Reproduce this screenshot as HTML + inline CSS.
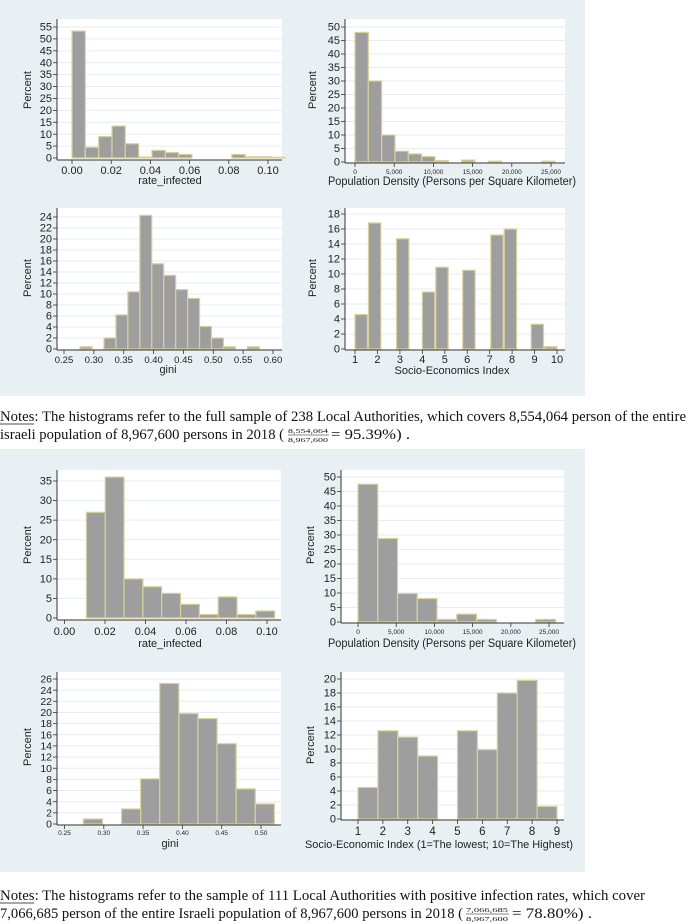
<!DOCTYPE html>
<html><head><meta charset="utf-8"><style>
html,body{margin:0;padding:0;background:#fff;}
svg{display:block;}
</style></head><body>
<svg id="fig" width="688" height="924" viewBox="0 0 688 924" xmlns="http://www.w3.org/2000/svg" font-family="Liberation Sans, sans-serif">
<rect x="0" y="0" width="585" height="396" fill="#e9f0f3"/>
<rect x="0" y="449" width="585" height="423" fill="#e9f0f3"/>
<g id="charts"></g>
<g font-family="Liberation Serif, serif" font-size="14.5" fill="#111">
  <text x="0" y="421" textLength="686" lengthAdjust="spacingAndGlyphs">Notes: The histograms refer to the full sample of 238 Local Authorities, which covers 8,554,064 person of the entire</text>
  <line x1="0" y1="424" x2="34" y2="424" stroke="#111" stroke-width="0.8"/>
  <text x="0" y="439" textLength="284" lengthAdjust="spacingAndGlyphs">israeli population of 8,967,600 persons in 2018 (</text>
  <text x="288" y="433" font-size="6.5" textLength="40" lengthAdjust="spacingAndGlyphs">8,554,064</text>
  <line x1="288" y1="435" x2="329" y2="435" stroke="#111" stroke-width="0.6"/>
  <text x="288" y="442" font-size="6.5" textLength="40" lengthAdjust="spacingAndGlyphs">8,967,600</text>
  <text x="331" y="439" textLength="79" lengthAdjust="spacingAndGlyphs">= 95.39%) .</text>
</g>
<g font-family="Liberation Serif, serif" font-size="14.5" fill="#111">
  <text x="0" y="900" textLength="645" lengthAdjust="spacingAndGlyphs">Notes: The histograms refer to the sample of 111 Local Authorities with positive infection rates, which cover</text>
  <line x1="0" y1="903" x2="34" y2="903" stroke="#111" stroke-width="0.8"/>
  <text x="0" y="918" textLength="463" lengthAdjust="spacingAndGlyphs">7,066,685 person of the entire Israeli population of 8,967,600 persons in 2018 (</text>
  <text x="466" y="912" font-size="6.5" textLength="42" lengthAdjust="spacingAndGlyphs">7,066,685</text>
  <line x1="466" y1="914" x2="509" y2="914" stroke="#111" stroke-width="0.6"/>
  <text x="466" y="921" font-size="6.5" textLength="42" lengthAdjust="spacingAndGlyphs">8,967,600</text>
  <text x="512" y="918" textLength="80" lengthAdjust="spacingAndGlyphs">= 78.80%) .</text>
</g>
</svg>
<script>
// ---- data ----
const rateAllValues = [53.3,4.5,9.0,13.4,6.0,0.4,3.2,2.3,1.5,0,0,0,1.5,0.5,0.5,0.3];
const rateAllStart = 0; const rateAllWidth = 0.0068;
const rateAllTicks = [0,0.02,0.04,0.06,0.08,0.10];
const densAllValues = [48,30,10,4,3,2,0.5,0,0.7,0,0.3,0,0,0,0.3];
const densAllStart = 0; const densAllWidth = 1700;
const densTicks = [0,5000,10000,15000,20000,25000];
const giniAllValues = [0.4,0,2.0,6.2,10.4,24.3,15.5,13.4,10.8,9.2,4.1,2.0,0.4,0,0.4];
const giniAllStart = 0.277; const giniAllWidth = 0.02;
const giniAllTicks = [0.25,0.30,0.35,0.40,0.45,0.50,0.55,0.60];
const seAllStarts = [1.0,1.6,2.85,4.0,4.6,5.8,7.05,7.65,8.85,9.45];
const seAllValues = [4.6,16.8,14.7,7.6,10.9,10.5,15.2,16.0,3.3,0.3];
const seAllWidth = 0.55;
const seAllTicks = [1,2,3,4,5,6,7,8,9,10];
const ratePosValues = [27,36,10,8,6.3,3.5,0.9,5.4,0.9,1.8];
const ratePosStart = 0.0108; const ratePosWidth = 0.0093;
const densPosValues = [47.5,28.8,9.8,8.1,0.9,2.7,0.9,0,0,0.9];
const densPosStart = 0; const densPosWidth = 2585;
const giniPosValues = [0.9,0,2.7,8.1,25.2,19.8,18.9,14.4,6.3,3.6];
const giniPosStart = 0.274; const giniPosWidth = 0.0243;
const giniPosTicks = [0.25,0.30,0.35,0.40,0.45,0.50];
const sePosValues = [4.5,12.6,11.7,9.0,0,12.6,9.9,18.0,19.8,1.8];
const sePosStart = 1; const sePosWidth = 0.8;
const sePosTicks = [1,2,3,4,5,6,7,8,9];

const NS = 'http://www.w3.org/2000/svg';
const root = document.getElementById('charts');
function mk(tag, attrs, parent){ const e=document.createElementNS(NS,tag); for(const k in attrs) e.setAttribute(k,attrs[k]); parent.appendChild(e); return e; }
function lin(d0,d1,p0,p1){ return v => p0 + (v-d0)*(p1-p0)/(d1-d0); }

function chart(c){
  const g = mk('g',{},root);
  
  
  const xs = lin(c.xd[0],c.xd[1],c.xp[0],c.xp[1]);
  const ys = lin(0,c.ytop,c.y0,c.ytopPx);
  const pa = mk('rect',{x:c.l,y:c.t,width:c.r-c.l,height:c.b-c.t,fill:'#fff'},g);
  
  
  for(let v=0; v<=c.ytop+1e-9; v+=c.ystep){
    const y = ys(v);
    if(v>0){ const gl=mk('line',{x1:c.l,x2:c.r,y1:y,y2:y,stroke:'#e6edf1','stroke-width':1},g);
      
       }
    mk('line',{x1:c.l-4,x2:c.l,y1:y,y2:y,stroke:'#333','stroke-width':0.8},g);
    const t=mk('text',{x:c.l-5,y:y+3.6,'text-anchor':'end','font-size':c.yfs,fill:'#222'},g);
    t.textContent = String(v);
    
    
  }
  c.values.forEach((v,i)=>{
    const s = c.starts ? c.starts[i] : c.start + i*c.width;
    const x0=xs(s), x1=xs(s+c.width), y=ys(v);
    const b=mk('rect',{x:x0,y:y,width:Math.max(0,x1-x0),height:Math.max(0,c.y0-y),fill:'#9e9e9e',stroke:'#d9d19c','stroke-width':1.2},g);
    
    
  });
  mk('line',{x1:c.l,x2:c.l,y1:c.t,y2:c.b,stroke:'#333','stroke-width':1},g);
  mk('line',{x1:c.l,x2:c.r,y1:c.b,y2:c.b,stroke:'#333','stroke-width':1},g);
  c.xticks.forEach(v=>{
    const x=xs(v);
    mk('line',{x1:x,x2:x,y1:c.b,y2:c.b+4,stroke:'#333','stroke-width':0.8},g);
    const t=mk('text',{x:x,y:c.xty,'text-anchor':'middle','font-size':c.xfs,fill:'#222'},g);
    t.textContent = c.xfmt(v);
    
    
  });
  const xl=mk('text',{x:c.xlx,y:c.xly,'text-anchor':'middle','font-size':c.xlfs,fill:'#222'},g);
  if(c.xlw){ xl.setAttribute('textLength',c.xlw); xl.setAttribute('lengthAdjust','spacingAndGlyphs'); }
  xl.textContent=c.xlabel;
  
  
  const yl=mk('text',{x:0,y:0,'text-anchor':'middle','font-size':11,fill:'#222',transform:`translate(${c.ylx},${c.yly}) rotate(-90)`},g);
  yl.textContent='Percent';
  
  
}
const f2 = v=>v.toFixed(2);
const fc = v=>v.toLocaleString('en-US');
const fi = v=>String(v);

chart({name:'hist-rate-infected-all',l:57,r:282,t:19,b:160,xd:[0,0.1],xp:[72,268],y0:158,ytop:55,ytopPx:27,ystep:5,
  values:rateAllValues,start:rateAllStart,width:rateAllWidth,xticks:rateAllTicks,xfmt:f2,xfs:11,yfs:11,xty:174,
  xlabel:'rate_infected',xlx:170,xly:184,xlfs:11,ylx:31,yly:90});
chart({name:'hist-density-all',l:345,r:565,t:19,b:163,xd:[0,25000],xp:[355,551],y0:162,ytop:50,ytopPx:27,ystep:5,
  values:densAllValues,start:densAllStart,width:densAllWidth,xticks:densTicks,xfmt:fc,xfs:6.5,yfs:11,xty:174,
  xlabel:'Population Density (Persons per Square Kilometer)',xlx:452,xly:185,xlfs:11.5,xlw:248,ylx:316,yly:90});
chart({name:'hist-gini-all',l:57,r:282,t:208,b:350,xd:[0.25,0.6],xp:[64,273],y0:349,ytop:24,ytopPx:217,ystep:2,
  values:giniAllValues,start:giniAllStart,width:giniAllWidth,xticks:giniAllTicks,xfmt:f2,xfs:9.5,yfs:11,xty:363,
  xlabel:'gini',xlx:168,xly:373,xlfs:11,ylx:31,yly:278});
chart({name:'hist-socioeconomic-all',l:345,r:565,t:208,b:350,xd:[1,10],xp:[355,557],y0:349,ytop:18,ytopPx:214,ystep:2,
  values:seAllValues,starts:seAllStarts,width:seAllWidth,xticks:seAllTicks,xfmt:fi,xfs:11,yfs:11,xty:363,
  xlabel:'Socio-Economics Index',xlx:452,xly:374,xlfs:11,ylx:316,yly:278});
chart({name:'hist-rate-infected-positive',l:57,r:281,t:470,b:620,xd:[0,0.1],xp:[64.5,267],y0:618,ytop:35,ytopPx:481,ystep:5,
  values:ratePosValues,start:ratePosStart,width:ratePosWidth,xticks:rateAllTicks,xfmt:f2,xfs:11,yfs:11,xty:635,
  xlabel:'rate_infected',xlx:170,xly:647,xlfs:11,ylx:31,yly:545});
chart({name:'hist-density-positive',l:341,r:564,t:470,b:623,xd:[0,25000],xp:[358,549],y0:622,ytop:50,ytopPx:477,ystep:5,
  values:densPosValues,start:densPosStart,width:densPosWidth,xticks:densTicks,xfmt:fc,xfs:6.5,yfs:11,xty:634,
  xlabel:'Population Density (Persons per Square Kilometer)',xlx:452,xly:647,xlfs:11.5,xlw:248,ylx:314,yly:545});
chart({name:'hist-gini-positive',l:57,r:281,t:672,b:825,xd:[0.25,0.5],xp:[64.5,261],y0:824,ytop:26,ytopPx:679,ystep:2,
  values:giniPosValues,start:giniPosStart,width:giniPosWidth,xticks:giniPosTicks,xfmt:f2,xfs:6.5,yfs:10.5,xty:835,
  xlabel:'gini',xlx:170,xly:847,xlfs:11,ylx:31,yly:747});
chart({name:'hist-socioeconomic-positive',l:341,r:564,t:672,b:820,xd:[1,9],xp:[358,557],y0:819,ytop:20,ytopPx:679,ystep:2,
  values:sePosValues,start:sePosStart,width:sePosWidth,xticks:sePosTicks,xfmt:fi,xfs:11.5,yfs:11,xty:835,
  xlabel:'Socio-Economic Index (1=The lowest; 10=The Highest)',xlx:439,xly:848,xlfs:11,xlw:268,ylx:314,yly:745});
</script>
</body></html>
